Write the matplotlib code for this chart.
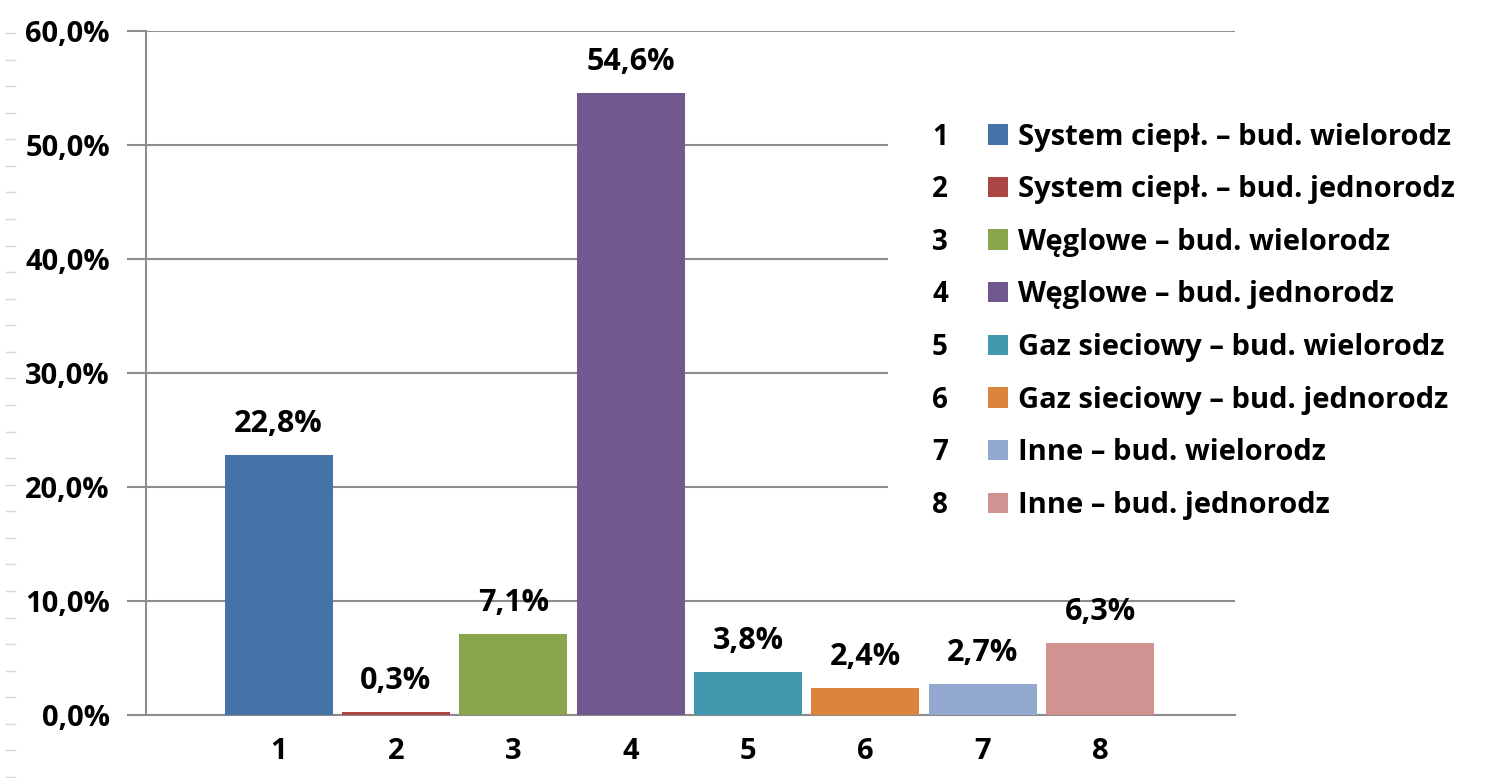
import numpy as np
import matplotlib
matplotlib.use('Agg')
import matplotlib.pyplot as plt
from matplotlib.patches import Patch, Rectangle
from matplotlib.ticker import FuncFormatter, MultipleLocator

# data
categories = ['1', '2', '3', '4', '5', '6', '7', '8']
values = [22.8, 0.3, 7.1, 54.6, 3.8, 2.4, 2.7, 6.3]
names = ['System ciepł. – bud. wielorodz',
         'System ciepł. – bud. jednorodz',
         'Węglowe – bud. wielorodz',
         'Węglowe – bud. jednorodz',
         'Gaz sieciowy – bud. wielorodz',
         'Gaz sieciowy – bud. jednorodz',
         'Inne – bud. wielorodz',
         'Inne – bud. jednorodz']
colors = ['#4572A7', '#AA4643', '#89A54E', '#71588F',
          '#4198AF', '#DB843D', '#93A9CF', '#D19392']

plt.rcParams['font.family'] = ['Open Sans', 'DejaVu Sans']
plt.rcParams['font.weight'] = 'bold'

W, H = 1486, 778
fig = plt.figure(figsize=(W / 100, H / 100), dpi=100)
ax = fig.add_axes([146 / W, 1 - 715 / H, (1235 - 146) / W, (715 - 31) / H])

x = np.arange(1, len(values) + 1)
bars = ax.bar(x, values, width=0.92, color=colors, zorder=3)

for xi, v in zip(x, values):
    ax.text(xi, v + 1.4, '{:.1f}%'.format(v).replace('.', ','),
            ha='center', va='bottom', fontsize=22, fontweight='bold')

ax.set_ylim(0, 60)
ax.set_xlim(-0.13, 9.15)
ax.yaxis.set_major_locator(MultipleLocator(10))
ax.yaxis.set_major_formatter(FuncFormatter(lambda v, p: '{:.1f}%'.format(v).replace('.', ',')))
ax.set_xticks(x)
ax.set_xticklabels(categories)
ax.grid(axis='y', color='#8c8c8c', linewidth=1.5, zorder=0)
for s in ['top', 'right']:
    ax.spines[s].set_visible(False)
for s in ['left', 'bottom']:
    ax.spines[s].set_color('#8c8c8c')
    ax.spines[s].set_linewidth(1.5)
ax.tick_params(axis='y', length=14, width=1.5, color='#8c8c8c', pad=12, labelsize=21)
ax.tick_params(axis='x', length=0, pad=16, labelsize=21)

# white area behind the legend (hides gridlines)
fig.patches.append(Rectangle((888 / W, 1 - 535 / H), (W - 888) / W, (535 - 100) / H,
                             transform=fig.transFigure, facecolor='white',
                             edgecolor='none', zorder=1))

handles = [Patch(facecolor=c, edgecolor='none') for c in colors]
leg = fig.legend(handles, names, loc='upper left',
                 bbox_to_anchor=(973 / W, 1 - 108 / H), bbox_transform=fig.transFigure,
                 frameon=False, borderpad=0, fontsize=21, handlelength=0.7,
                 handleheight=0.7, handletextpad=0.33, labelspacing=0.81)
leg.set_zorder(2)
for t in leg.get_texts():
    t.set_fontweight('bold')

fig.canvas.draw()
inv = fig.transFigure.inverted()
for i, t in enumerate(leg.get_texts()):
    bb = t.get_window_extent()
    yc = inv.transform((0, (bb.y0 + bb.y1) / 2))[1]
    fig.text(940 / W, yc, categories[i], ha='center', va='center',
             fontsize=20, fontweight='bold', zorder=3)

# faint ruler marks at the left edge of the page
rul = fig.add_axes([16 / W, 0, 0.0001, 1])
rul.set_ylim(H, 0)
rul.set_yticks(np.linspace(33, 777, 29))
rul.tick_params(axis='y', length=8, width=1, color='#d8d8d8', labelleft=False)
rul.set_xticks([])
for s in rul.spines.values():
    s.set_visible(False)

fig.savefig('out.png', dpi=100)
